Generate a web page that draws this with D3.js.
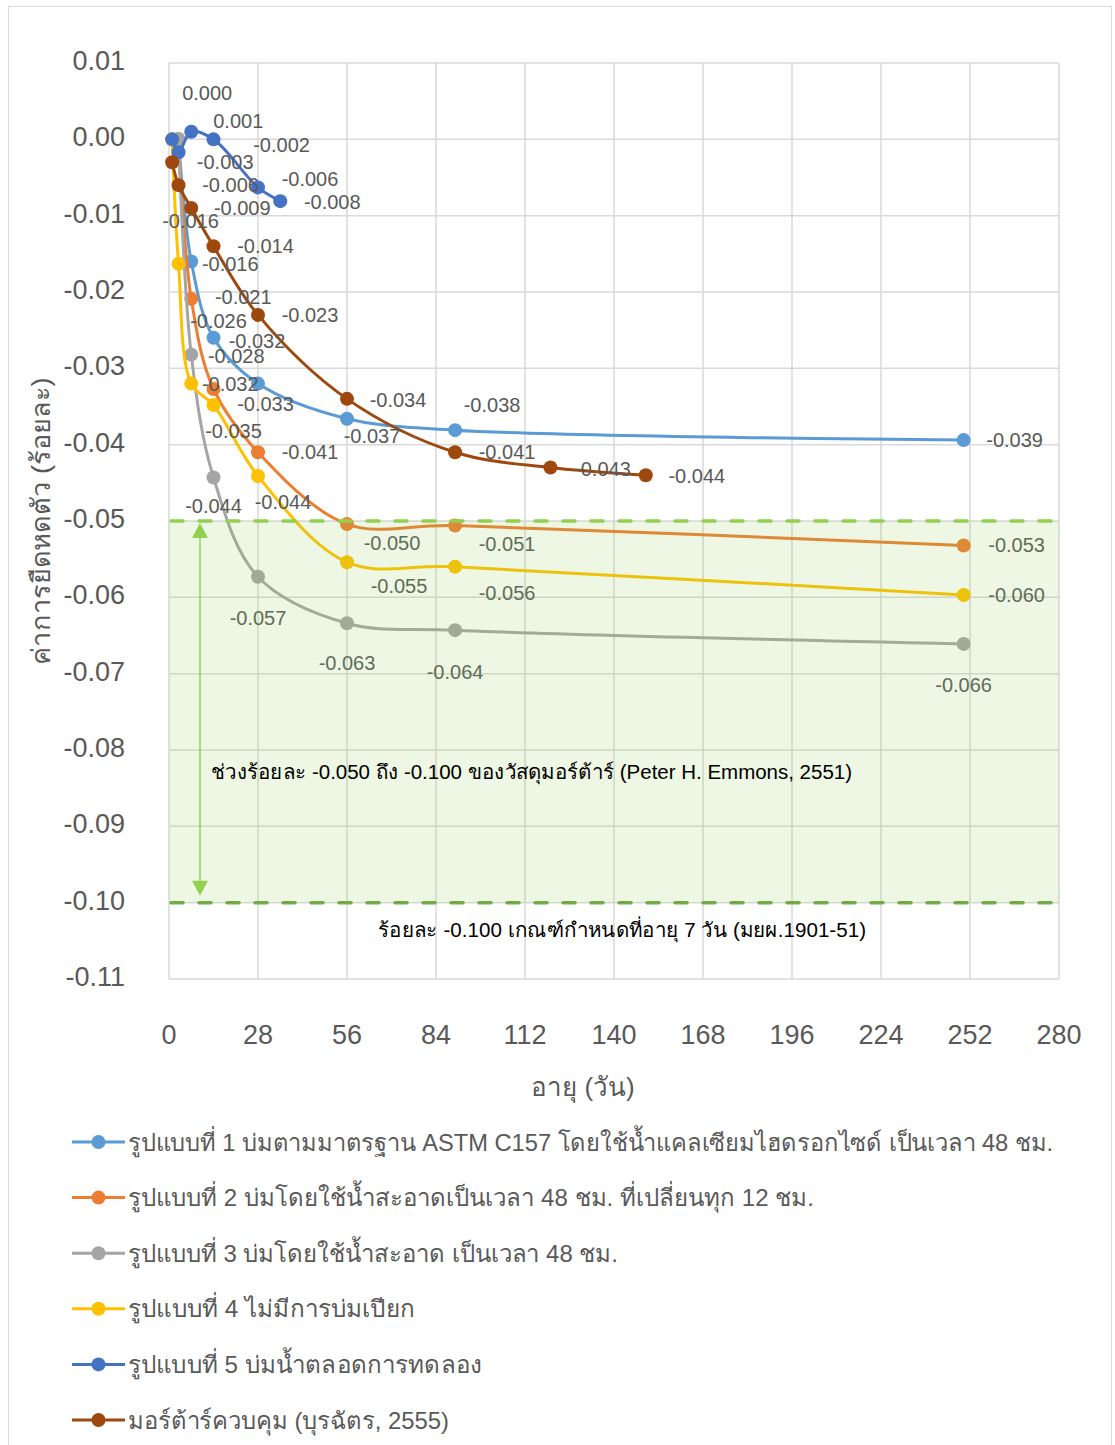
<!DOCTYPE html>
<html>
<head>
<meta charset="utf-8">
<script src="https://cdn.jsdelivr.net/npm/d3@7"></script>
<style>
  body { margin: 0; background: #fff; }
  text { font-family: "Liberation Sans", Arial, sans-serif; }
</style>
</head>
<body>
<div id="chart"></div>
<script>
// series (age in days, shrinkage in percent)
const seriesNames = [
  'รูปแบบที่ 1 บ่มตามมาตรฐาน ASTM C157 โดยใช้น้ำแคลเซียมไฮดรอกไซด์ เป็นเวลา 48 ชม.',
  'รูปแบบที่ 2 บ่มโดยใช้น้ำสะอาดเป็นเวลา 48 ชม. ที่เปลี่ยนทุก 12 ชม.',
  'รูปแบบที่ 3 บ่มโดยใช้น้ำสะอาด เป็นเวลา 48 ชม.',
  'รูปแบบที่ 4 ไม่มีการบ่มเปียก',
  'รูปแบบที่ 5 บ่มน้ำตลอดการทดลอง',
  'มอร์ต้าร์ควบคุม (บุรฉัตร, 2555)'
]
const seriesColors = ['#5B9BD5', '#ED7D31', '#A5A5A5', '#FFC000', '#4472C4', '#9E480E']

const days1 = [3, 7, 14, 28, 56, 90, 250]
const shrink1 = [0, -0.016, -0.026, -0.032, -0.0366, -0.0381, -0.0394]
const days2 = [3, 7, 14, 28, 56, 90, 250]
const shrink2 = [0, -0.0209, -0.0327, -0.041, -0.0504, -0.0506, -0.0532]
const days3 = [3, 7, 14, 28, 56, 90, 250]
const shrink3 = [0, -0.0282, -0.0443, -0.0573, -0.0634, -0.0643, -0.0661]
const days4 = [1, 3, 7, 14, 28, 56, 90, 250]
const shrink4 = [0, -0.0163, -0.032, -0.0348, -0.0441, -0.0554, -0.056, -0.0597]
const days5 = [1, 3, 7, 14, 28, 35]
const shrink5 = [0, -0.0017, 0.001, 0, -0.0063, -0.0081]
const days6 = [1, 3, 7, 14, 28, 56, 90, 120, 150]
const shrink6 = [-0.003, -0.006, -0.009, -0.014, -0.023, -0.034, -0.041, -0.043, -0.044]

const xTicks = [0, 28, 56, 84, 112, 140, 168, 196, 224, 252, 280]
const yTicks = [0.01, 0, -0.01, -0.02, -0.03, -0.04, -0.05, -0.06, -0.07, -0.08, -0.09, -0.10, -0.11]

const bandTop = -0.05
const bandBottom = -0.10
const bandText = 'ช่วงร้อยละ -0.050 ถึง -0.100 ของวัสดุมอร์ต้าร์ (Peter H. Emmons, 2551)'
const limitText = 'ร้อยละ -0.100 เกณฑ์กำหนดที่อายุ 7 วัน (มยผ.1901-51)'
const xTitle = 'อายุ (วัน)'
const yTitle = 'ค่าการยืดหดตัว (ร้อยละ)'

// where each data label sits relative to its point (null = no label)
const labelOffsets = [
  [null, [39, 3], [5, -17], [-1, -43], [25, 17], [37, -25], [51, 0]],
  [null, [52, -2], [52, 15], [52, 0], [45, 19], [52, 18], [53, 0]],
  [null, [45, 1], [0, 29], [0, 41], [0, 40], [0, 42], [0, 41]],
  [null, [12, -43], [39, 0], [20, 26], [25, 26], [52, 24], [52, 26], [53, 0]],
  [[35, -46], [103, -7], [47, -11], null, [52, -8], [52, 1]],
  [[53, 0], [52, 0], [51, 0], [52, 0], [52, 0], [51, 1], [52, 0], [52, 1], [51, 1]]
]

const seriesDays = [days1, days2, days3, days4, days5, days6]
const seriesShrink = [shrink1, shrink2, shrink3, shrink4, shrink5, shrink6]

const width = 1115
const height = 1445
const plot = { left: 169, right: 1059, top: 63, bottom: 979 }

const svg = d3
  .select('#chart')
  .append('svg')
  .attr('width', width)
  .attr('height', height)

// outer chart border
svg.append('rect')
  .attr('x', 8.5).attr('y', 6.5)
  .attr('width', 1103).attr('height', 1460)
  .attr('fill', 'none')
  .attr('stroke', '#D9D9D9')
  .attr('stroke-width', 1)

const x = d3.scaleLinear().domain([0, 280]).range([plot.left, plot.right])
const y = d3.scaleLinear().domain([0.01, -0.11]).range([plot.top, plot.bottom])

const fmt = d3.format('.2f')
const fmt3 = d3.format('.3f')
const dash = s => s.replace('−', '-')

// gridlines
svg.append('g')
  .selectAll('line')
  .data(yTicks)
  .enter()
  .append('line')
  .attr('x1', plot.left).attr('x2', plot.right)
  .attr('y1', d => y(d)).attr('y2', d => y(d))
  .attr('stroke', '#D9D9D9')
  .attr('stroke-width', 1.5)

svg.append('g')
  .selectAll('line')
  .data(xTicks)
  .enter()
  .append('line')
  .attr('x1', d => x(d)).attr('x2', d => x(d))
  .attr('y1', plot.top).attr('y2', plot.bottom)
  .attr('stroke', '#D9D9D9')
  .attr('stroke-width', 1.5)

// tick labels
svg.append('g')
  .selectAll('text')
  .data(yTicks)
  .enter()
  .append('text')
  .attr('x', 125)
  .attr('y', d => y(d) - 2)
  .attr('text-anchor', 'end')
  .attr('dominant-baseline', 'central')
  .attr('font-size', 27)
  .attr('fill', '#595959')
  .text(d => dash(fmt(d)))

svg.append('g')
  .selectAll('text')
  .data(xTicks)
  .enter()
  .append('text')
  .attr('x', d => x(d))
  .attr('y', 1035)
  .attr('text-anchor', 'middle')
  .attr('dominant-baseline', 'central')
  .attr('font-size', 27)
  .attr('fill', '#595959')
  .text(d => d)

// axis titles
svg.append('text')
  .attr('x', 583).attr('y', 1087)
  .attr('text-anchor', 'middle')
  .attr('dominant-baseline', 'central')
  .attr('font-size', 26)
  .attr('fill', '#595959')
  .text(xTitle)

svg.append('text')
  .attr('transform', 'translate(41,521) rotate(-90)')
  .attr('text-anchor', 'middle')
  .attr('dominant-baseline', 'central')
  .attr('font-size', 26)
  .attr('fill', '#595959')
  .attr('textLength', 287)
  .attr('lengthAdjust', 'spacingAndGlyphs')
  .text(yTitle)

// lines + markers
const line = d3.line()
  .x(d => x(d.day))
  .y(d => y(d.value))
  .curve(d3.curveCatmullRom.alpha(0.5))

const series = seriesNames.map((name, i) => ({
  name: name,
  color: seriesColors[i],
  points: seriesDays[i].map((day, j) => ({ day: day, value: seriesShrink[i][j], off: labelOffsets[i][j] }))
}))

series.forEach(s => {
  svg.append('path')
    .datum(s.points)
    .attr('d', line)
    .attr('fill', 'none')
    .attr('stroke', s.color)
    .attr('stroke-width', 3)

  svg.append('g')
    .selectAll('circle')
    .data(s.points)
    .enter()
    .append('circle')
    .attr('cx', d => x(d.day))
    .attr('cy', d => y(d.value))
    .attr('r', 7)
    .attr('fill', s.color)
})

// data labels
series.forEach(s => {
  svg.append('g')
    .selectAll('text')
    .data(s.points.filter(d => d.off))
    .enter()
    .append('text')
    .attr('x', d => x(d.day) + d.off[0])
    .attr('y', d => y(d.value) + d.off[1])
    .attr('text-anchor', 'middle')
    .attr('dominant-baseline', 'central')
    .attr('font-size', 20)
    .attr('fill', '#595959')
    .text(d => dash(fmt3(d.value)))
})

// shaded band -0.05 .. -0.10
svg.append('rect')
  .attr('x', plot.left)
  .attr('y', y(bandTop))
  .attr('width', plot.right - plot.left)
  .attr('height', y(bandBottom) - y(bandTop))
  .attr('fill', '#92D050')
  .attr('opacity', 0.16)

svg.append('line')
  .attr('x1', plot.left + 2).attr('x2', plot.right)
  .attr('y1', y(bandTop)).attr('y2', y(bandTop))
  .attr('stroke', '#92D050')
  .attr('stroke-width', 3.5)
  .attr('stroke-linecap', 'round')
  .attr('stroke-dasharray', '12,16')

svg.append('line')
  .attr('x1', plot.left + 2).attr('x2', plot.right)
  .attr('y1', y(bandBottom)).attr('y2', y(bandBottom))
  .attr('stroke', '#70AD47')
  .attr('stroke-width', 3.5)
  .attr('stroke-linecap', 'round')
  .attr('stroke-dasharray', '12,16')

// double headed arrow
const ax = 200
svg.append('line')
  .attr('x1', ax).attr('x2', ax)
  .attr('y1', y(bandTop) + 14).attr('y2', y(bandBottom) - 14)
  .attr('stroke', '#92D050')
  .attr('stroke-width', 1.5)
svg.append('path')
  .attr('d', `M${ax},${y(bandTop) + 2} L${ax - 8},${y(bandTop) + 17} L${ax + 8},${y(bandTop) + 17} Z`)
  .attr('fill', '#92D050')
svg.append('path')
  .attr('d', `M${ax},${y(bandBottom) - 7} L${ax - 8},${y(bandBottom) - 22} L${ax + 8},${y(bandBottom) - 22} Z`)
  .attr('fill', '#92D050')

svg.append('text')
  .attr('x', 211).attr('y', 772)
  .attr('dominant-baseline', 'central')
  .attr('font-size', 20)
  .attr('fill', '#000')
  .attr('textLength', 641)
  .attr('lengthAdjust', 'spacingAndGlyphs')
  .text(bandText)

svg.append('text')
  .attr('x', 378).attr('y', 930)
  .attr('dominant-baseline', 'central')
  .attr('font-size', 20)
  .attr('fill', '#000')
  .attr('textLength', 488)
  .attr('lengthAdjust', 'spacingAndGlyphs')
  .text(limitText)

// legend
const legendWidths = [925, 686, 490, 287, 354, 321]
const legend = svg.append('g')
  .selectAll('g')
  .data(series)
  .enter()
  .append('g')
  .attr('transform', (d, i) => `translate(0,${1142 + i * 55.6})`)

legend.append('line')
  .attr('x1', 72).attr('x2', 125)
  .attr('stroke', d => d.color)
  .attr('stroke-width', 3)
legend.append('circle')
  .attr('cx', 98.5)
  .attr('r', 7)
  .attr('fill', d => d.color)
legend.append('text')
  .attr('x', 128)
  .attr('dominant-baseline', 'central')
  .attr('font-size', 24)
  .attr('fill', '#595959')
  .attr('textLength', (d, i) => legendWidths[i])
  .attr('lengthAdjust', 'spacingAndGlyphs')
  .text(d => d.name)
</script>
</body>
</html>
